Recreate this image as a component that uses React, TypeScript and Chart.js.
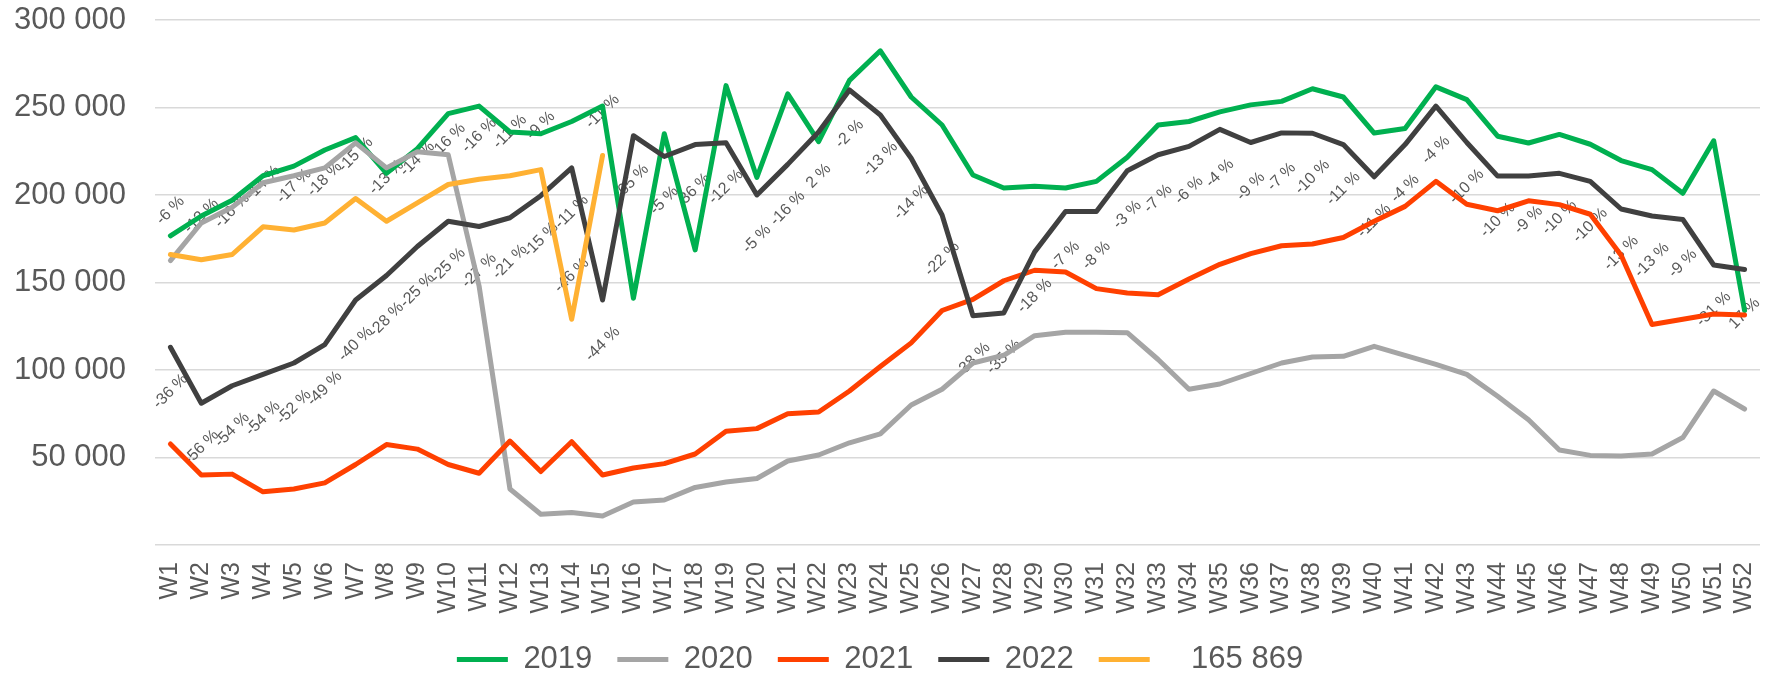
import React, { useEffect, useRef } from 'react';
import { Chart, registerables } from 'chart.js';

Chart.register(...registerables);

const weeks = [
  'W1', 'W2', 'W3', 'W4', 'W5', 'W6', 'W7', 'W8', 'W9', 'W10',
  'W11', 'W12', 'W13', 'W14', 'W15', 'W16', 'W17', 'W18', 'W19', 'W20',
  'W21', 'W22', 'W23', 'W24', 'W25', 'W26', 'W27', 'W28', 'W29', 'W30',
  'W31', 'W32', 'W33', 'W34', 'W35', 'W36', 'W37', 'W38', 'W39', 'W40',
  'W41', 'W42', 'W43', 'W44', 'W45', 'W46', 'W47', 'W48', 'W49', 'W50',
  'W51', 'W52',
];

const series2019 = [
  176700, 188000, 197000, 211000, 216500, 225700, 232800, 212400, 226500, 246500,
  250800, 236000, 235000, 242000, 250800, 141000, 235000, 168600, 262500, 210000,
  257800, 230500, 265500, 282400, 256000, 240000, 211400, 204000, 205000, 204000,
  207800, 221600, 240000, 242000, 247500, 251500, 253500, 260700, 256000, 235400,
  238000, 261800, 254500, 233600, 229700, 234600, 229000, 219700, 214500, 201000,
  231000, 134000,
];

const series2020 = [
  162500, 184000, 193000, 207000, 211000, 215500, 229800, 215500, 224700, 223000,
  148000, 32000, 17600, 18600, 16600, 24600, 25700, 32900, 36000, 38000,
  48000, 51400, 58400, 63500, 80000, 89000, 104000, 108400, 119600, 121600,
  121600, 121300, 106000, 89000, 92000, 98000, 104000, 107400, 107800, 113500,
  108400, 103200, 97500, 85000, 71600, 54300, 51200, 50800, 52000, 61400,
  88000, 77700,
];

const series2021 = [
  57700, 40000, 40500, 30400, 32000, 35500, 46000, 57400, 54800, 46000,
  41000, 59400, 42000, 59000, 40000, 44000, 46500, 52000, 65000, 66500,
  75000, 76000, 88000, 102000, 115500, 134000, 140400, 151000, 157000, 156000,
  146500, 144000, 143000, 152000, 160400, 166500, 171000, 172000, 175700, 185000,
  193500, 207800, 194700, 191000, 196700, 194500, 189000, 165600, 126000, 129000,
  132000, 131400,
];

const series2022 = [
  113000, 81000, 91000, 97500, 104000, 114500, 140000, 154000, 170600, 185000,
  182000, 187000, 199600, 215500, 140000, 233900, 222000, 228800, 229800, 200000,
  217500, 236000, 260000, 245700, 221000, 188600, 131000, 132600, 167500, 190600,
  190600, 213900, 223000, 227800, 237500, 230000, 235500, 235300, 228800, 210400,
  228800, 250800, 230000, 210800, 210800, 212400, 207800, 192000, 188000, 186000,
  160000, 157400,
];

const seriesCurrent = [
  166000, 163000, 166000, 181800, 180000, 184000, 198000, 185000, 195500, 206000,
  209000, 211000, 214500, 129000, 222600,
];

const pctCurrent = [
  '-6 %', '-12 %', '-16 %', '-14 %', '-17 %', '-18 %', '-15 %', '-13 %', '-14 %', '-16 %',
  '-16 %', '-11 %', '-9 %', '-46 %', '-11 %',
];

const pct2022 = [
  '-36 %', '-56 %', '-54 %', '-54 %', '-52 %', '-49 %', '-40 %', '-28 %', '-25 %', '-25 %',
  '-27 %', '-21 %', '-15 %', '-11 %', '-44 %', '65 %', '-5 %', '36 %', '-12 %', '-5 %',
  '-16 %', '2 %', '-2 %', '-13 %', '-14 %', '-22 %', '-38 %', '-35 %', '-18 %', '-7 %',
  '-8 %', '-3 %', '-7 %', '-6 %', '-4 %', '-9 %', '-7 %', '-10 %', '-11 %', '-11 %',
  '-4 %', '-4 %', '-10 %', '-10 %', '-9 %', '-10 %', '-10 %', '-13 %', '-13 %', '-9 %',
  '-31 %', '17 %',
];

const seriesNames = ['2019', '2020', '2021', '2022', '   165 869'];

const FONT = '"Liberation Sans", Arial, sans-serif';
const TEXT = '#595959';
const COLORS = ['#00B050', '#A5A5A5', '#FF4000', '#404040', '#FFB133'];

const pctLabels = {
  id: 'pctLabels',
  beforeDatasetsDraw(chart: any) {
    const ctx = chart.ctx;
    ctx.save();
    ctx.font = `16px ${FONT}`;
    ctx.fillStyle = TEXT;
    ctx.textAlign = 'center';
    ctx.textBaseline = 'middle';
    const draw = (dsIndex: number, labels: string[], dy: number) => {
      const meta = chart.getDatasetMeta(dsIndex);
      meta.data.forEach((pt: any, i: number) => {
        const txt = labels[i];
        if (txt == null) return;
        ctx.save();
        ctx.translate(pt.x, pt.y + dy);
        ctx.rotate(-Math.PI / 4);
        ctx.fillText(txt, 0, 0);
        ctx.restore();
      });
    };
    draw(4, pctCurrent, -44);
    draw(3, pct2022, 44);
    ctx.restore();
  },
};

export default function App() {
  const ref = useRef<HTMLCanvasElement | null>(null);

  useEffect(() => {
    document.body.style.margin = '0';
    document.body.style.overflow = 'hidden';
    const canvas = ref.current;
    if (!canvas) return;
    const allData = [series2019, series2020, series2021, series2022, seriesCurrent];
    const datasets = allData.map((d, i) => ({
      label: seriesNames[i],
      data: d,
      borderColor: COLORS[i],
      backgroundColor: COLORS[i],
      borderWidth: 5,
      pointRadius: 0,
      pointHoverRadius: 0,
      tension: 0,
      fill: false,
      borderJoinStyle: 'round' as const,
      borderCapStyle: 'round' as const,
      order: 4 - i,
    }));

    const chart = new Chart(canvas, {
      type: 'line',
      data: { labels: weeks, datasets },
      options: {
        animation: false,
        responsive: false,
        devicePixelRatio: 1,
        layout: { padding: { top: 20, right: 12, left: 0, bottom: -10 } },
        plugins: {
          legend: {
            position: 'bottom',
            labels: {
              usePointStyle: true,
              pointStyle: 'line',
              pointStyleWidth: 51,
              padding: 25,
              color: TEXT,
              font: { family: FONT, size: 31 },
              sort: (a: any, b: any) => a.datasetIndex - b.datasetIndex,
            },
          },
          tooltip: { enabled: false },
        },
        scales: {
          x: {
            offset: true,
            grid: { display: false, drawTicks: false, offset: true },
            border: { display: false },
            ticks: {
              autoSkip: false,
              maxRotation: 90,
              minRotation: 90,
              padding: 17,
              color: TEXT,
              font: { family: FONT, size: 25 },
            },
            afterFit: (s: any) => {
              s.height = 74;
              s.paddingLeft = 0;
              s.paddingRight = 0;
            },
          },
          y: {
            min: 0,
            max: 300000,
            grid: { color: '#D9D9D9', lineWidth: 1.5, drawTicks: false },
            border: { display: false },
            ticks: {
              stepSize: 50000,
              padding: 29,
              color: TEXT,
              font: { family: FONT, size: 31 },
              callback: (v: any) => (Number(v) === 0 ? '' : `${Number(v) / 1000} 000`),
            },
            afterFit: (s: any) => {
              s.width = 155;
              s.paddingTop = 0;
              s.paddingBottom = 0;
            },
          },
        },
      },
      plugins: [pctLabels],
    });
    return () => chart.destroy();
  }, []);

  return <canvas ref={ref} width={1772} height={675} style={{ display: 'block' }} />;
}
